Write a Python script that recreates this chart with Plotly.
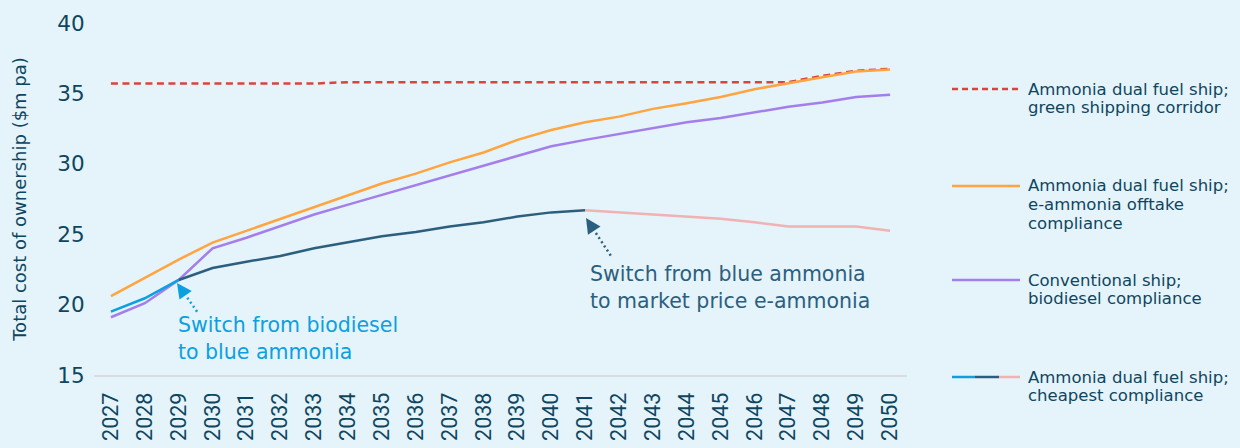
import plotly.graph_objects as go

# ---------------- data ----------------
years = [2027, 2028, 2029, 2030, 2031, 2032, 2033, 2034, 2035, 2036, 2037, 2038,
         2039, 2040, 2041, 2042, 2043, 2044, 2045, 2046, 2047, 2048, 2049, 2050]

green_corridor = [35.7, 35.7, 35.7, 35.7, 35.7, 35.7, 35.7, 35.8, 35.8, 35.8, 35.8, 35.8,
                  35.8, 35.8, 35.8, 35.8, 35.8, 35.8, 35.8, 35.8, 35.8, 36.25, 36.6, 36.75]

eammonia_offtake = [20.6, 21.9, 23.2, 24.4, 25.25, 26.1, 26.95, 27.8, 28.6, 29.3, 30.1, 30.8,
                    31.7, 32.4, 32.95, 33.35, 33.9, 34.3, 34.75, 35.3, 35.75, 36.15, 36.55, 36.7]

biodiesel = [19.1, 20.1, 21.75, 24.0, 24.75, 25.6, 26.4, 27.1, 27.8, 28.5, 29.2, 29.9,
             30.55, 31.25, 31.7, 32.1, 32.5, 32.95, 33.25, 33.65, 34.05, 34.35, 34.75, 34.9]

cheapest = [19.5, 20.45, 21.75, 22.6, 23.05, 23.45, 24.0, 24.45, 24.85, 25.15, 25.55, 25.85,
            26.25, 26.55, 26.7, 26.55, 26.4, 26.25, 26.1, 25.85, 25.55, 25.55, 25.55, 25.25]

switch_years = [2029, 2041]

y_ticks = [15, 20, 25, 30, 35, 40]

legend_labels = [
    ["Ammonia dual fuel ship;", "green shipping corridor"],
    ["Ammonia dual fuel ship;", "e-ammonia offtake", "compliance"],
    ["Conventional ship;", "biodiesel compliance"],
    ["Ammonia dual fuel ship;", "cheapest compliance"],
]

note1 = ["Switch from biodiesel", "to blue ammonia"]
note2 = ["Switch from blue ammonia", "to market price e-ammonia"]

# ---------------- style ----------------
W, H = 1240, 448
ML, MR, MT, MB = 94, 333, 23, 73
PW, PH = W - ML - MR, H - MT - MB
FONT = "DejaVu Sans"
TICKFONT = "Roboto"
BG = "#E5F3FB"
NAVY = "#0E4660"
RED = "#D9443F"
ORANGE = "#FFA43F"
PURPLE = "#A47EEB"
LBLUE = "#0BA0E0"
DBLUE = "#2C5F7E"
PINK = "#F0B2B2"
LW = 2.5


def px_x(px):
    return (px - ML) / PW


def px_y(py):
    return (H - MB - py) / PH


fig = go.Figure()


def add_line(x, y, color, dash="solid"):
    fig.add_trace(go.Scatter(x=x, y=y, mode="lines",
                             line=dict(color=color, width=LW, dash=dash),
                             hoverinfo="skip", showlegend=False))


add_line(years, green_corridor, RED, "7px,4.5px")
add_line(years, eammonia_offtake, ORANGE)
add_line(years, biodiesel, PURPLE)
i1 = years.index(switch_years[0])
i2 = years.index(switch_years[1])
add_line(years[:i1 + 1], cheapest[:i1 + 1], LBLUE)
add_line(years[i1:i2 + 1], cheapest[i1:i2 + 1], DBLUE)
add_line(years[i2:], cheapest[i2:], PINK)


def text_lines(lines, x_px, y_px, spacing, size, color):
    for k, t in enumerate(lines):
        fig.add_annotation(x=px_x(x_px), y=px_y(y_px + k * spacing), xref="paper", yref="paper",
                           text=t, showarrow=False, xanchor="left", yanchor="middle",
                           font=dict(size=size, color=color, family=FONT))


def text_block(lines, x_px, y_center_px, size, color):
    fig.add_annotation(x=px_x(x_px), y=px_y(y_center_px), xref="paper", yref="paper",
                       text="<br>".join(lines), showarrow=False, xanchor="left",
                       yanchor="middle", align="left",
                       font=dict(size=size, color=color, family=FONT))


def dotted_arrow(tip_px, tail_px, color, head_len=15, head_half=7.5):
    (tx, ty), (sx, sy) = tip_px, tail_px
    dx, dy = sx - tx, sy - ty
    n = (dx * dx + dy * dy) ** 0.5
    ux, uy = dx / n, dy / n
    bx, by = tx + ux * head_len, ty + uy * head_len
    px_, py_ = -uy * head_half, ux * head_half
    pts = [(tx, ty), (bx + px_, by + py_), (bx - px_, by - py_)]
    path = "M " + " L ".join(f"{px_x(a):.5f},{px_y(b):.5f}" for a, b in pts) + " Z"
    fig.add_shape(type="path", xref="paper", yref="paper", path=path,
                  fillcolor=color, line=dict(width=0))
    fig.add_shape(type="line", xref="paper", yref="paper",
                  x0=px_x(bx + ux * 3), y0=px_y(by + uy * 3), x1=px_x(sx), y1=px_y(sy),
                  line=dict(color=color, width=2.5, dash="2px,3px"))


# annotations
dotted_arrow((177, 283), (198, 313), LBLUE)
text_block(note1, 176, 338.5, 20.5, LBLUE)
dotted_arrow((586, 218), (611, 256), DBLUE)
text_block(note2, 588, 287, 20.5, DBLUE)

# custom legend
leg_y = [89, 186, 280, 377]
for k, yy in enumerate(leg_y):
    if k == 0:
        fig.add_shape(type="line", xref="paper", yref="paper", x0=px_x(952), x1=px_x(1020),
                      y0=px_y(yy), y1=px_y(yy), line=dict(color=RED, width=LW, dash="6px,4px"))
    elif k == 1:
        fig.add_shape(type="line", xref="paper", yref="paper", x0=px_x(952), x1=px_x(1020),
                      y0=px_y(yy), y1=px_y(yy), line=dict(color=ORANGE, width=LW))
    elif k == 2:
        fig.add_shape(type="line", xref="paper", yref="paper", x0=px_x(952), x1=px_x(1020),
                      y0=px_y(yy), y1=px_y(yy), line=dict(color=PURPLE, width=LW))
    else:
        for (a, b, c) in [(952, 975, LBLUE), (975, 999, DBLUE), (999, 1020, PINK)]:
            fig.add_shape(type="line", xref="paper", yref="paper", x0=px_x(a), x1=px_x(b),
                          y0=px_y(yy), y1=px_y(yy), line=dict(color=c, width=LW))
    text_lines(legend_labels[k], 1026, yy, 18.7, 16.5, NAVY)

fig.update_layout(
    width=W, height=H,
    margin=dict(l=ML, r=MR, t=MT, b=MB, autoexpand=False),
    paper_bgcolor=BG, plot_bgcolor=BG,
    showlegend=False,
    font=dict(family=FONT, color=NAVY),
    xaxis=dict(range=[2026.5, 2050.5], tickmode="array", tickvals=years,
               ticktext=[str(y) for y in years], tickangle=-90,
               tickfont=dict(size=21.5, color=NAVY, family=TICKFONT),
               showline=True, linecolor="#D8DCE0", linewidth=2,
               showgrid=False, zeroline=False, ticks="outside", ticklen=7,
               tickcolor="rgba(0,0,0,0)", fixedrange=True),
    yaxis=dict(range=[15, 40], tickmode="array", tickvals=y_ticks,
               tickfont=dict(size=21.5, color=NAVY, family=FONT),
               showline=False, showgrid=False, zeroline=False,
               ticks="outside", ticklen=4, tickcolor="rgba(0,0,0,0)",
               title=dict(text="Total cost of ownership ($m pa)",
                          font=dict(size=18, color=NAVY, family=FONT), standoff=26),
               fixedrange=True),
)

fig.write_html("out.html")
